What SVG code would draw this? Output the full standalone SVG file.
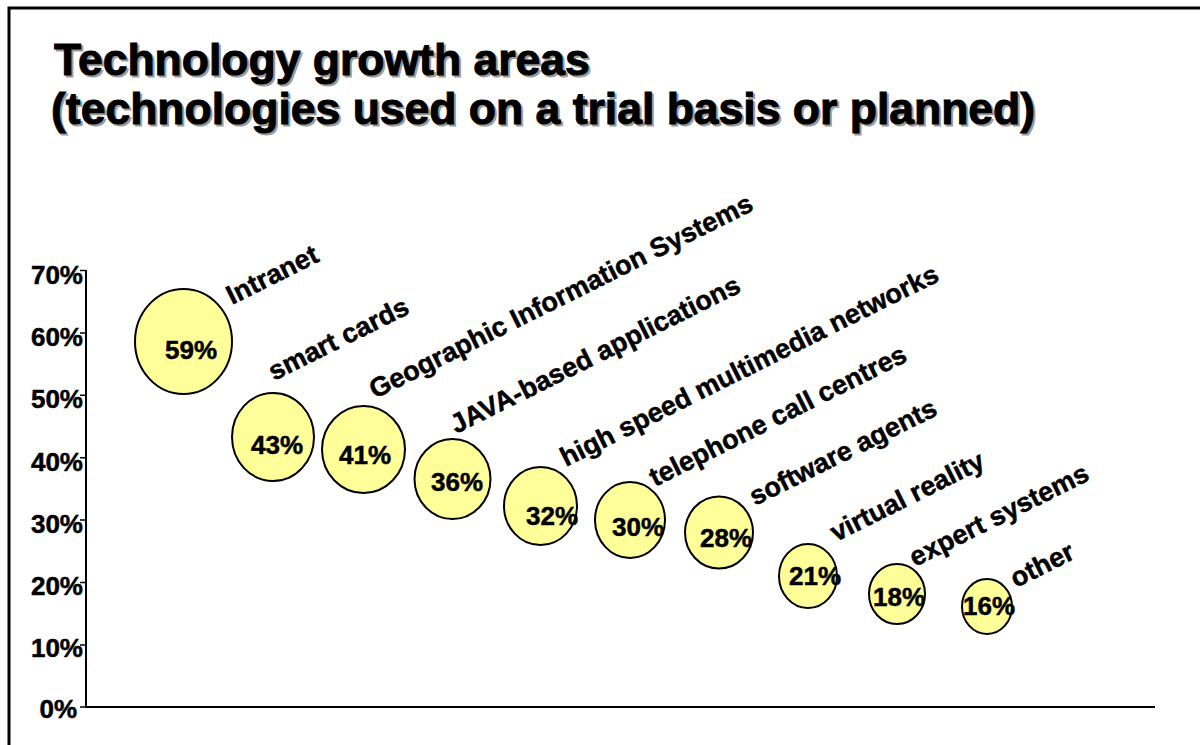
<svg xmlns="http://www.w3.org/2000/svg" width="1200" height="745" viewBox="0 0 1200 745">
<style>
text{font-family:"Liberation Sans",Arial,sans-serif;font-weight:bold;fill:#000;stroke:#000;stroke-width:0.5}
.title{font-size:44.5px;stroke-width:1}
.shadow{fill:#9a9a9a;stroke:#9a9a9a}
.ax{font-size:26px;text-anchor:end}
.pct{font-size:26px}
.lbl{font-size:27px}
.bub{fill:#FFFF99;stroke:#000;stroke-width:2}
.line{stroke:#000;fill:none}
</style>
<rect x="0" y="0" width="1200" height="745" fill="#fff"/>
<path class="line" d="M9,745 V8 H1200" stroke-width="3"/>
<g id="title">
<text class="title shadow" x="56" y="77">Technology growth areas</text>
<text class="title shadow" x="53" y="126">(technologies used on a trial basis or planned)</text>
<text class="title" x="54" y="75">Technology growth areas</text>
<text class="title" x="51" y="124">(technologies used on a trial basis or planned)</text>
</g>
<g id="axes">
<path class="line" stroke-width="2" d="M86,270 V707 H1155"/>
<path class="line" stroke-width="1.5" d="M80,270.5 H86 M80,332.9 H86 M80,395.3 H86 M80,457.7 H86 M80,520.1 H86 M80,582.5 H86 M80,644.9 H86 M80,707 H86"/>
<text class="ax" x="83" y="284">70%</text>
<text class="ax" x="83" y="346">60%</text>
<text class="ax" x="83" y="408">50%</text>
<text class="ax" x="83" y="471">40%</text>
<text class="ax" x="83" y="533">30%</text>
<text class="ax" x="83" y="595">20%</text>
<text class="ax" x="83" y="657">10%</text>
<text class="ax" x="77" y="718">0%</text>
</g>
<g id="connectors"></g>
<g id="intranet">
<ellipse class="bub" cx="183.5" cy="341.5" rx="48.5" ry="52.5"/>
<text class="pct" x="165" y="359">59%</text>
<text class="lbl" transform="translate(232,305) rotate(-26.5)">Intranet</text>
</g>
<g id="smart-cards">
<ellipse class="bub" cx="273" cy="437" rx="41" ry="44"/>
<text class="pct" x="251" y="454">43%</text>
<text class="lbl" transform="translate(274,381) rotate(-26.5)">smart cards</text>
</g>
<g id="gis">
<ellipse class="bub" cx="363.5" cy="449.5" rx="41.5" ry="43.5"/>
<text class="pct" x="339" y="464">41%</text>
<text class="lbl" transform="translate(375,399) rotate(-26.5)">Geographic Information Systems</text>
</g>
<g id="java">
<ellipse class="bub" cx="452.5" cy="479" rx="38" ry="40"/>
<text class="pct" x="431" y="491">36%</text>
<text class="lbl" transform="translate(456,434) rotate(-26.5)">JAVA-based applications</text>
</g>
<g id="multimedia">
<ellipse class="bub" cx="540.5" cy="506" rx="36.5" ry="39"/>
<text class="pct" x="526" y="525">32%</text>
<text class="lbl" transform="translate(566,467) rotate(-26.5)">high speed multimedia networks</text>
</g>
<g id="call-centres">
<ellipse class="bub" cx="630" cy="520" rx="35" ry="38"/>
<text class="pct" x="612" y="536">30%</text>
<text class="lbl" transform="translate(655,487) rotate(-26.5)">telephone call centres</text>
</g>
<g id="agents">
<ellipse class="bub" cx="719" cy="532.5" rx="34" ry="36"/>
<text class="pct" x="700" y="547">28%</text>
<text class="lbl" transform="translate(755,506) rotate(-26.5)">software agents</text>
</g>
<g id="vr">
<ellipse class="bub" cx="808" cy="576" rx="29" ry="32"/>
<text class="pct" x="789" y="585">21%</text>
<text class="lbl" transform="translate(836,542) rotate(-26.5)">virtual reality</text>
</g>
<g id="expert">
<ellipse class="bub" cx="897" cy="594" rx="28" ry="30"/>
<text class="pct" x="873" y="606">18%</text>
<text class="lbl" transform="translate(915,567) rotate(-26.5)">expert systems</text>
</g>
<g id="other">
<ellipse class="bub" cx="987" cy="606.5" rx="25" ry="27.5"/>
<text class="pct" x="963" y="615">16%</text>
<text class="lbl" transform="translate(1016,588) rotate(-26.5)">other</text>
</g>
</svg>
